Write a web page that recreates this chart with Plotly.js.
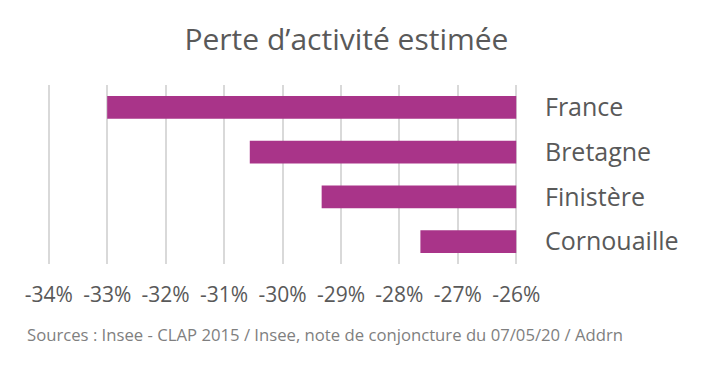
<!DOCTYPE html>
<html>
<head>
<meta charset="utf-8">
<script src="https://cdn.plot.ly/plotly-3.0.1.min.js"></script>
<style>html,body{margin:0;padding:0;background:#fff;}#chart{width:710px;height:366px;}</style>
</head>
<body>
<div id="chart"></div>
<script>
const categories = ['France', 'Bretagne', 'Finistère', 'Cornouaille'];
const values = [-33.0, -30.56, -29.33, -27.64];
const barBase = -26;
const tickValues = [-34, -33, -32, -31, -30, -29, -28, -27, -26];
const tickLabels = ['-34%', '-33%', '-32%', '-31%', '-30%', '-29%', '-28%', '-27%', '-26%'];
const titleText = 'Perte d’activité estimée';
const sourceText = 'Sources : Insee - CLAP 2015 / Insee, note de conjoncture du 07/05/20 / Addrn';

const FONT = '"Open Sans", sans-serif';
const GREY = '#595959';

const trace = {
  type: 'bar',
  orientation: 'h',
  y: categories,
  base: barBase,
  x: values.map(v => v - barBase),
  marker: {color: '#A93489'},
  hoverinfo: 'none'
};

// small padding so gridlines at -34% and -26% are drawn
const pad = 0.03;

const layout = {
  width: 710,
  height: 366,
  margin: {l: 47.25, r: 191.5, t: 85, b: 101.5},
  paper_bgcolor: '#ffffff',
  plot_bgcolor: '#ffffff',
  showlegend: false,
  bargap: 0.49,
  font: {family: FONT, color: GREY},
  title: {
    text: titleText,
    font: {family: FONT, size: 30, color: GREY},
    x: 0.488, xanchor: 'center',
    y: 0.893, yanchor: 'middle', yref: 'container'
  },
  xaxis: {
    range: [-34 - pad, -26 + pad],
    tickmode: 'array',
    tickvals: tickValues,
    ticktext: tickLabels,
    showgrid: true,
    gridcolor: '#d9d9d9',
    gridwidth: 2,
    zeroline: false,
    showline: false,
    ticks: '',
    ticklabelstandoff: 16,
    tickfont: {family: FONT, size: 21, color: GREY},
    fixedrange: true
  },
  yaxis: {
    type: 'category',
    autorange: 'reversed',
    side: 'right',
    showgrid: false,
    zeroline: false,
    showline: false,
    ticks: '',
    ticklabelstandoff: 26,
    tickfont: {family: FONT, size: 25, color: GREY},
    fixedrange: true
  },
  annotations: [{
    text: sourceText,
    xref: 'paper', yref: 'paper',
    x: -0.0475, y: -0.395,
    xanchor: 'left', yanchor: 'middle',
    showarrow: false,
    font: {family: FONT, size: 16.7, color: '#7f7f7f'}
  }]
};

Plotly.newPlot('chart', [trace], layout, {displayModeBar: false, staticPlot: true});
</script>
</body>
</html>
